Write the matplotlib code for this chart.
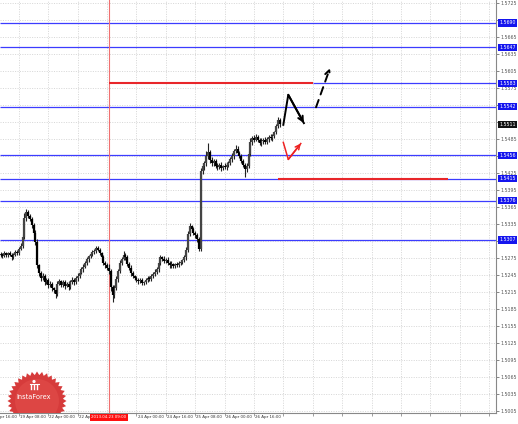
import numpy as np
import matplotlib.pyplot as plt
import matplotlib.transforms as mtransforms
from matplotlib.patches import Polygon, Rectangle, Circle

# GBP/USD H1 bars, bar index 0 = 18 Apr 16:00, first drawn bar = 6
bar_start = 6
first_open = 1.5280
closes = [
    1.5282, 1.5279, 1.5283, 1.5280, 1.5284, 1.5281, 1.5276, 1.5280, 1.5286, 1.5284,
    1.5291, 1.5296, 1.5312, 1.5345, 1.5356, 1.5349, 1.5343, 1.5333, 1.5320, 1.5304,
    1.5262, 1.5248, 1.5240, 1.5244, 1.5233, 1.5236, 1.5228, 1.5230, 1.5222, 1.5218,
    1.5212, 1.5230, 1.5234, 1.5228, 1.5233, 1.5226, 1.5229, 1.5224, 1.5233, 1.5237,
    1.5232, 1.5240, 1.5243, 1.5249, 1.5255, 1.5260, 1.5266, 1.5273, 1.5278, 1.5282,
    1.5285, 1.5288, 1.5292, 1.5290, 1.5284, 1.5276, 1.5266, 1.5262, 1.5258, 1.5252,
    1.5224, 1.5210, 1.5222, 1.5238, 1.5252, 1.5266, 1.5274, 1.5281, 1.5276, 1.5265,
    1.5258, 1.5249, 1.5243, 1.5239, 1.5237, 1.5234, 1.5236, 1.5231, 1.5233, 1.5236,
    1.5240, 1.5238, 1.5243, 1.5246, 1.5250, 1.5256, 1.5266, 1.5276, 1.5274, 1.5270,
    1.5272, 1.5266, 1.5262, 1.5265, 1.5261, 1.5264, 1.5263, 1.5266, 1.5268, 1.5271,
    1.5276, 1.5290, 1.5318, 1.5331, 1.5326, 1.5320, 1.5315, 1.5309, 1.5291, 1.5428,
    1.5437, 1.5442, 1.5455, 1.5462, 1.5448, 1.5442, 1.5446, 1.5438, 1.5436, 1.5440,
    1.5434, 1.5437, 1.5435, 1.5440, 1.5443, 1.5449, 1.5455, 1.5463, 1.5468, 1.5461,
    1.5455, 1.5447, 1.5440, 1.5432, 1.5438, 1.5458, 1.5480, 1.5487, 1.5484, 1.5489,
    1.5483, 1.5478, 1.5481, 1.5484, 1.5480, 1.5485, 1.5488, 1.5486, 1.5490, 1.5497,
    1.5508, 1.5519, 1.5511,
]
hi_pips = [
    3, 2, 4, 3, 2, 3, 2, 3, 4, 3,
    4, 5, 6, 9, 5, 4, 3, 4, 3, 5,
    4, 3, 4, 5, 3, 4, 3, 4, 3, 2,
    3, 5, 4, 3, 4, 3, 4, 5, 3, 4,
    3, 4, 5, 3, 4, 5, 3, 4, 3, 4,
    5, 3, 4, 5, 3, 2, 4, 3, 4, 6,
    3, 4, 5, 6, 4, 5, 3, 6, 3, 4,
    3, 4, 3, 2, 4, 3, 4, 3, 2, 4,
    3, 4, 3, 4, 5, 3, 6, 4, 3, 4,
    3, 4, 3, 4, 2, 3, 4, 3, 4, 3,
    4, 5, 4, 6, 3, 4, 3, 4, 3, 5,
    6, 5, 9, 16, 4, 5, 3, 4, 5, 3,
    4, 3, 5, 4, 3, 4, 5, 4, 6, 4,
    3, 4, 3, 2, 4, 5, 6, 4, 5, 4,
    3, 4, 5, 3, 4, 3, 4, 5, 4, 3,
    4, 5, 3,
]
lo_pips = [
    3, 4, 2, 3, 4, 3, 5, 3, 2, 4,
    3, 2, 4, 3, 5, 4, 3, 5, 4, 6,
    5, 4, 6, 3, 5, 4, 6, 4, 5, 4,
    8, 4, 3, 5, 4, 6, 3, 5, 4, 3,
    4, 3, 5, 4, 3, 4, 3, 4, 5, 3,
    4, 3, 5, 3, 4, 5, 3, 4, 5, 6,
    8, 12, 5, 4, 6, 3, 4, 3, 5, 4,
    4, 5, 4, 3, 4, 5, 3, 4, 3, 4,
    3, 4, 3, 4, 3, 4, 5, 3, 4, 3,
    4, 3, 5, 4, 3, 4, 3, 4, 3, 4,
    3, 4, 5, 4, 3, 5, 4, 6, 4, 3,
    5, 6, 4, 5, 6, 4, 5, 4, 6, 4,
    5, 4, 3, 4, 5, 3, 4, 5, 3, 4,
    4, 5, 4, 14, 5, 4, 3, 5, 4, 3,
    4, 3, 5, 4, 3, 4, 5, 3, 4, 3,
    3, 4, 5,
]
last_price = 1.5511

time_ticks = [0, 16, 32, 48, 80, 96, 112, 128, 144]
time_labels = ["18 Apr 16:00", "19 Apr 08:00", "22 Apr 00:00", "22 Apr 16:00",
               "24 Apr 00:00", "24 Apr 16:00", "25 Apr 08:00",
               "26 Apr 00:00", "26 Apr 16:00"]
price_ticks = [1.5005, 1.5035, 1.5065, 1.5095, 1.5125, 1.5155, 1.5185, 1.5215,
               1.5245, 1.5275, 1.5305, 1.5335, 1.5365, 1.5395, 1.5425, 1.5455,
               1.5485, 1.5515, 1.5545, 1.5575, 1.5605, 1.5635, 1.5665, 1.5695,
               1.5725]

# support / resistance levels (blue) and their start bar (None = whole chart)
blue_levels = [1.5690, 1.5647, 1.5583, 1.5542, 1.5456, 1.5415, 1.5376, 1.5307]
blue_from = [None, None, 176, None, None, None, None, None]
# red target segments
red_levels = [1.5583, 1.5415]
red_from = [65, 157]
red_to = [176, 249.5]
marker_bar = 65
marker_label = "2013.04.23 09:00"

# forecast arrows (bar index, price)
black_x = [159.9, 162.6, 171.1]
black_y = [1.5510, 1.5563, 1.5513]
dash_x = [177.7, 185.3]
dash_y = [1.5541, 1.5610]
red_x = [159.9, 162.6, 169.4]
red_y = [1.5479, 1.5449, 1.5477]

BLUE = "#3c3cff"
XLIM = (5.714, 275.65)
YLIM = (1.50015, 1.57303)

fig = plt.figure(figsize=(5.18, 4.24), dpi=100)
ax = fig.add_axes([0, 1 - 413 / 424, 496 / 518, 413 / 424])

for s in ["left", "top"]:
    ax.spines[s].set_visible(False)
for s in ["right", "bottom"]:
    ax.spines[s].set_color("#888888")
    ax.spines[s].set_linewidth(0.8)

# labels hidden under a level box are not drawn
shown = [p for p in price_ticks
         if min(abs(p - b) for b in blue_levels + [last_price]) > 0.0007]
ax.set_xticks(list(range(0, 280, 16)))
ax.set_xticklabels([])
ax.yaxis.tick_right()
ax.set_yticks(price_ticks)
ax.set_yticklabels([f"{p:.4f}" if p in shown else "" for p in price_ticks])
ax.tick_params(axis="y", labelsize=3.4, colors="#555555", length=2, width=0.5, pad=1.5)
ax.tick_params(axis="x", length=2, width=0.5, colors="#777777")
ax.grid(color="#c8c8c8", linestyle=(0, (1.5, 2)), linewidth=0.5)
ax.set_axisbelow(True)
ax.set_xlim(*XLIM)
ax.set_ylim(*YLIM)

# candles
idx = np.arange(bar_start, bar_start + len(closes))
cl = np.array(closes)
op = np.concatenate([[first_open], cl[:-1]])
hi = np.maximum(op, cl) + np.array(hi_pips) * 0.0001
lo = np.minimum(op, cl) - np.array(lo_pips) * 0.0001
ax.vlines(idx, lo, hi, color="#222222", linewidth=0.8, zorder=3)
up = cl >= op
ax.vlines(idx[up], op[up], cl[up], color="#444444", linewidth=1.6, zorder=3)
ax.vlines(idx[~up], op[~up], cl[~up], color="#000000", linewidth=1.6, zorder=3)

# levels
for lvl, x0 in zip(blue_levels, blue_from):
    ax.hlines(lvl, XLIM[0] if x0 is None else x0, XLIM[1], color=BLUE, linewidth=0.9, zorder=2)
for lvl, x0, x1 in zip(red_levels, red_from, red_to):
    ax.hlines(lvl, x0, x1, color="#e8262a", linewidth=1.5, zorder=4)
ax.axvline(marker_bar, color="#f07070", linewidth=0.8, zorder=2)

# arrows
ax.plot(black_x, black_y, color="black", linewidth=1.4, zorder=6)
ax.annotate("", xy=(black_x[-1], black_y[-1]), xytext=(black_x[-2], black_y[-2]),
            arrowprops=dict(arrowstyle="->", color="black", lw=1.4, mutation_scale=9,
                            shrinkA=0, shrinkB=0), zorder=6)
ax.annotate("", xy=(dash_x[-1], dash_y[-1]), xytext=(dash_x[0], dash_y[0]),
            arrowprops=dict(arrowstyle="->", color="black", lw=1.4, linestyle=(0, (4, 3)),
                            mutation_scale=9, shrinkA=0, shrinkB=0), zorder=6)
ax.plot(red_x, red_y, color="#ee2222", linewidth=1.1, zorder=6)
ax.annotate("", xy=(red_x[-1], red_y[-1]), xytext=(red_x[-2], red_y[-2]),
            arrowprops=dict(arrowstyle="->", color="#ee2222", lw=1.1, mutation_scale=8,
                            shrinkA=0, shrinkB=0), zorder=6)

# price labels on right axis
ytrans = mtransforms.blended_transform_factory(ax.transAxes, ax.transData)
for lvl in blue_levels:
    ax.text(1.006, lvl, f"{lvl:.4f}", transform=ytrans, ha="left", va="center",
            fontsize=3.4, color="white", clip_on=False, zorder=7,
            bbox=dict(boxstyle="square,pad=0.25", fc="#1515ee", ec="none"))
ax.text(1.006, last_price, f"{last_price:.4f}", transform=ytrans, ha="left", va="center",
        fontsize=3.4, color="white", clip_on=False, zorder=7,
        bbox=dict(boxstyle="square,pad=0.25", fc="#111111", ec="none"))

# time labels
xtrans = mtransforms.blended_transform_factory(ax.transData, ax.transAxes)
for t, lab in zip(time_ticks, time_labels):
    ax.text(t + 0.6, -0.006, lab, transform=xtrans, ha="left", va="top",
            fontsize=2.9, color="#333333", clip_on=False)
ax.text(marker_bar, -0.006, marker_label, transform=xtrans, ha="center", va="top",
        fontsize=2.9, color="white", clip_on=False, zorder=7,
        bbox=dict(boxstyle="square,pad=0.3", fc="#ff1010", ec="none"))

# InstaForex badge (pixel overlay)
ov = fig.add_axes([0, 0, 1, 1], zorder=5)
ov.set_xlim(0, 518)
ov.set_ylim(424, 0)
ov.axis("off")
ov.patch.set_alpha(0)
cx, cy, n = 37, 401, 36
ang = np.linspace(0, 2 * np.pi, 2 * n, endpoint=False)
rad = np.where(np.arange(2 * n) % 2 == 0, 29.5, 26)
star = Polygon(np.column_stack([cx + rad * np.cos(ang), cy + rad * np.sin(ang)]),
               closed=True, fc="#d63b3b", ec="none")
ov.add_patch(star)
inner = Circle((cx, cy), 22, fc="#dd4644", ec="none")
ov.add_patch(inner)
clip = Rectangle((0, 0), 496, 413, transform=ov.transData, fill=False)
star.set_clip_path(clip)
inner.set_clip_path(clip)
ov.add_patch(Circle((34, 381.5), 1.6, fc="white", ec="none"))
for dx in (-3, 0, 3):
    ov.plot([34 + dx, 34 + dx], [384.5, 389], color="white", linewidth=1.0)
ov.plot([29.5, 38.5], [384, 384], color="white", linewidth=0.8)
ov.text(34, 397, "InstaForex", ha="center", va="center", fontsize=4.8, color="white")

fig.savefig("out.png", dpi=100)
